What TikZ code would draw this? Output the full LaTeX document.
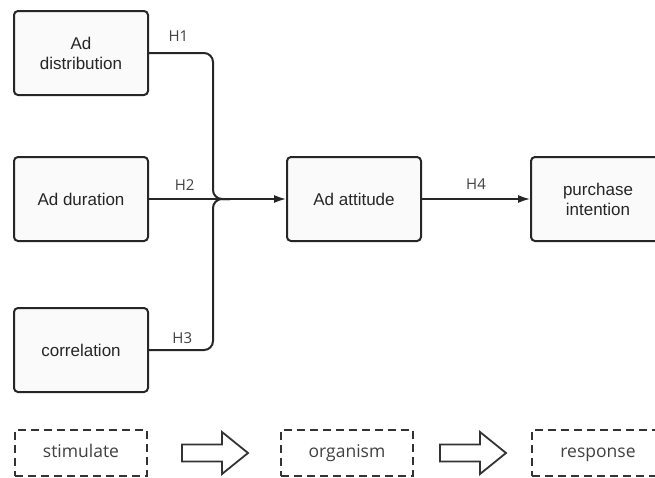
\documentclass[tikz,border=0pt]{standalone}
\usepackage{fontspec}
\setmainfont{Liberation Sans}
\newfontfamily\labelfont{Open Sans}
\usetikzlibrary{arrows.meta}

\begin{document}
\begin{tikzpicture}[
  x=1pt, y=-1pt,
  box/.style={
    draw=black!85, line width=2pt, rounded corners=4pt, fill=black!2,
    align=center, minimum width=134pt, minimum height=84pt,
    inner sep=2pt, text=black!85, font=\fontsize{17}{20}\selectfont
  },
  stage/.style={
    draw=black!80, line width=2pt, dash pattern=on 8pt off 5pt,
    minimum width=132pt, minimum height=46pt, inner sep=2pt,
    text height=12pt, text depth=4pt,
    text=black!75, font=\labelfont\fontsize{17.5}{20}\selectfont
  },
  hollow/.style={draw=black!80, line width=1.8pt, fill=white},
  conn/.style={draw=black!85, line width=2pt, rounded corners=9pt},
  arr/.style={draw=black!85, line width=1.6pt,
    -{Latex[length=12pt, width=8pt]}},
  hlab/.style={text=black!75, font=\labelfont\fontsize{15}{17}\selectfont,
    inner sep=0pt},
]
\clip (0,0) rectangle (655,477);

% =========================== boxes =================================
\node[box] (dist) at (81, 53)  {Ad\\distribution};
\node[box] (dur)  at (81, 199) {Ad duration};
\node[box] (corr) at (81, 350) {correlation};
\node[box] (att)  at (354, 199) {Ad attitude};
\node[box] (pur)  at (598, 199) {purchase\\intention};

% =========================== connectors ============================
\coordinate (bend) at (213, 199);
\coordinate (join) at (230, 199);

\draw[conn] (dist.east) -| node[hlab, pos=0.23, above=11pt] {H1} (bend) -- (join);
\draw[conn] (corr.east) -| node[hlab, pos=0.26, above=5pt] {H3} (bend) -- (join);
\draw[arr] (dur.east) -- node[hlab, pos=0.26, above=8pt] {H2} (att.west);
\draw[arr] (att.east) -- node[hlab, above=9pt] {H4} (pur.west);

% =========================== S-O-R row =============================
\node[stage] (stim) at (81, 453)  {stimulate};
\node[stage] (org)  at (347, 453) {organism};
\node[stage] (resp) at (598, 453) {response};

\foreach \cx in {215, 473}{
  \draw[hollow] (\cx, 453) ++(-33,-8.5) -- ++(40,0) -- ++(0,-12.5)
    -- ++(26,21) -- ++(-26,21) -- ++(0,-12.5) -- ++(-40,0) -- cycle;
}

\end{tikzpicture}
\end{document}
